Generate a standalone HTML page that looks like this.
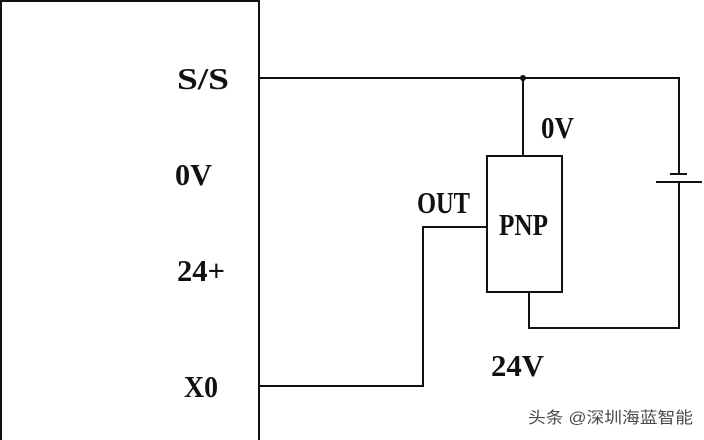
<!DOCTYPE html>
<html><head><meta charset="utf-8"><style>
html,body{margin:0;padding:0;background:#fff;}
svg{display:block;}
.t{font-family:"Liberation Serif",serif;font-weight:bold;font-size:31px;fill:#111;}
.w{font-family:"Liberation Sans","Noto Sans CJK SC",sans-serif;font-size:16px;fill:#4a4a4a;stroke:#fff;stroke-width:0.6px;paint-order:stroke;}
</style></head><body>
<svg width="704" height="440" viewBox="0 0 704 440" xmlns="http://www.w3.org/2000/svg">
<rect width="704" height="440" fill="#fff"/>
<g stroke="#111" stroke-width="2" fill="none">
<path d="M1 441 V1 H259 V441"/>
<path d="M259 78 H679 V174"/>
<path d="M523 78 V156"/>
<rect x="487" y="156" width="75" height="136"/>
<path d="M529 292 V328 H679 V182"/>
<path d="M670 174 H687"/>
<path d="M656 182 H702"/>
<path d="M487 227 H423 V386 H259"/>
</g>
<circle cx="523" cy="78" r="3" fill="#111"/>
<text class="t" x="177" y="89" textLength="52" lengthAdjust="spacingAndGlyphs">S/S</text>
<text class="t" x="175" y="185" textLength="37" lengthAdjust="spacingAndGlyphs">0V</text>
<text class="t" x="177" y="281" textLength="48" lengthAdjust="spacingAndGlyphs">24+</text>
<text class="t" x="184" y="397" textLength="34" lengthAdjust="spacingAndGlyphs">X0</text>
<text class="t" x="541" y="138" textLength="33" lengthAdjust="spacingAndGlyphs">0V</text>
<text class="t" x="417" y="213" textLength="53" lengthAdjust="spacingAndGlyphs">OUT</text>
<text class="t" x="499" y="235" textLength="49" lengthAdjust="spacingAndGlyphs">PNP</text>
<text class="t" x="491" y="376" textLength="53" lengthAdjust="spacingAndGlyphs">24V</text>
<text class="w" x="528" y="423" textLength="165" lengthAdjust="spacingAndGlyphs">头条 @深圳海蓝智能</text>
</svg>
</body></html>
